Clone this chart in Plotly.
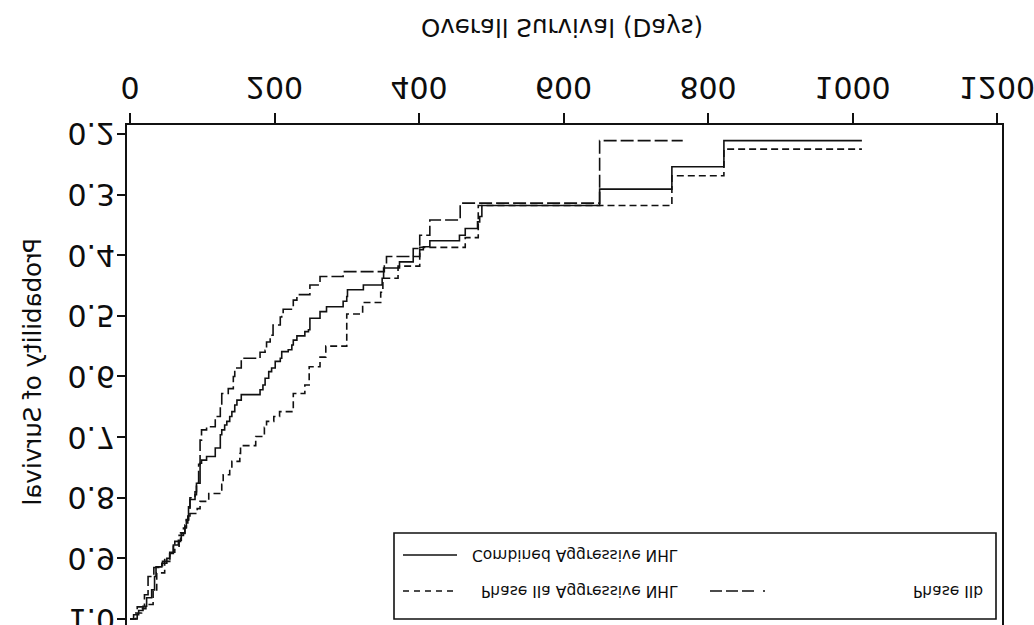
import plotly.graph_objects as go

# Kaplan-Meier step estimates: day of each event and survival after it
days_combined = [0, 5, 12, 18, 23, 30, 34, 36, 44, 51, 55, 60, 67, 71, 76, 78, 81, 83, 90, 92,
                 97, 99, 106, 118, 125, 127, 131, 134, 138, 141, 145, 148, 154, 180, 184, 187,
                 192, 196, 201, 208, 210, 219, 224, 226, 231, 242, 247, 249, 263, 272, 295, 300,
                 301, 323, 349, 351, 373, 392, 401, 406, 415, 456, 464, 481, 484, 487, 650, 750,
                 822, 1013]
surv_combined = [1.0, 0.993, 0.986, 0.979, 0.965, 0.952, 0.930, 0.914, 0.908, 0.900, 0.892,
                 0.878, 0.870, 0.859, 0.848, 0.837, 0.815, 0.803, 0.795, 0.776, 0.743, 0.738,
                 0.732, 0.718, 0.696, 0.688, 0.680, 0.674, 0.666, 0.658, 0.647, 0.639, 0.630,
                 0.622, 0.614, 0.603, 0.592, 0.586, 0.575, 0.570, 0.559, 0.556, 0.548, 0.540,
                 0.533, 0.526, 0.523, 0.504, 0.493, 0.485, 0.476, 0.468, 0.457, 0.449, 0.438,
                 0.421, 0.411, 0.402, 0.391, 0.386, 0.376, 0.367, 0.356, 0.345, 0.336, 0.318,
                 0.291, 0.254, 0.211, 0.211]

days_iia = [0, 8, 16, 22, 32, 37, 48, 55, 60, 68, 74, 78, 81, 93, 97, 109, 127, 129, 138, 141,
            152, 153, 174, 186, 189, 199, 207, 226, 242, 248, 263, 271, 300, 322, 347, 350, 371,
            401, 464, 482, 750, 822, 1013]
surv_iia = [1.0, 0.990, 0.983, 0.976, 0.954, 0.924, 0.902, 0.892, 0.880, 0.862, 0.850, 0.836,
            0.826, 0.818, 0.806, 0.793, 0.778, 0.762, 0.753, 0.740, 0.727, 0.714, 0.699, 0.684,
            0.674, 0.666, 0.658, 0.628, 0.614, 0.584, 0.568, 0.550, 0.497, 0.478, 0.461, 0.438,
            0.418, 0.387, 0.371, 0.318, 0.269, 0.225, 0.225]

days_iib = [0, 10, 20, 25, 33, 45, 55, 62, 70, 76, 80, 83, 90, 92, 95, 97, 99, 106, 118, 125,
            127, 136, 143, 145, 154, 180, 187, 189, 194, 198, 208, 210, 212, 226, 231, 249, 263,
            295, 352, 355, 392, 401, 415, 457, 650, 765]
surv_iib = [1.0, 0.980, 0.960, 0.930, 0.915, 0.905, 0.890, 0.872, 0.858, 0.845, 0.830, 0.800,
            0.790, 0.775, 0.745, 0.705, 0.688, 0.683, 0.666, 0.650, 0.628, 0.620, 0.600, 0.586,
            0.570, 0.560, 0.557, 0.543, 0.532, 0.515, 0.502, 0.497, 0.489, 0.474, 0.465, 0.449,
            0.435, 0.427, 0.416, 0.402, 0.389, 0.367, 0.342, 0.314, 0.211, 0.211]

x_ticks = [0, 200, 400, 600, 800, 1000, 1200]
y_ticks = [0.2, 0.3, 0.4, 0.5, 0.6, 0.7, 0.8, 0.9, 1.0]
y_tick_text = ["0.2", "0.3", "0.4", "0.5", "0.6", "0.7", "0.8", "0.9", "1.0"]

label_combined = "Combined Aggressive NHL"
label_iia = "Phase IIa Aggressive NHL"
label_iib = "Phase IIb"

INK = "#111111"
FONT = "DejaVu Sans"
DASH_SHORT = "7px,4px"
DASH_LONG = "13px,4px"
LW = 1.6

fig = go.Figure()
fig.add_trace(go.Scatter(x=days_combined, y=surv_combined, mode="lines",
                         line=dict(shape="hv", color=INK, width=LW)))
fig.add_trace(go.Scatter(x=days_iia, y=surv_iia, mode="lines",
                         line=dict(shape="hv", color=INK, width=LW, dash=DASH_SHORT)))
fig.add_trace(go.Scatter(x=days_iib, y=surv_iib, mode="lines",
                         line=dict(shape="hv", color=INK, width=LW, dash=DASH_LONG)))

W, H = 1034, 625
ML, MR, MT, MB = 127, 32, 0, 125
PW, PH = W - ML - MR, H - MT - MB


def px(x):
    return (x - ML) / PW


def py(y):
    return (PH - y) / PH


fig.update_layout(
    width=W, height=H,
    margin=dict(l=ML, r=MR, t=MT, b=MB, pad=0),
    plot_bgcolor="white", paper_bgcolor="white",
    showlegend=False,
    font=dict(family=FONT, color="#0d0d0d"),
)
fig.update_xaxes(
    range=[-4.15, 1206.9], tickvals=x_ticks, ticks="outside", ticklen=10, tickwidth=1.5,
    tickcolor=INK, showline=True, linewidth=1.6, linecolor=INK, mirror=False,
    showgrid=False, zeroline=False, tickfont=dict(size=30, family=FONT),
    ticklabeloverflow="allow", automargin=False,
)
fig.update_yaxes(
    range=[0.1852, 1.0099], tickvals=y_ticks, ticktext=y_tick_text, ticks="outside",
    ticklen=8, tickwidth=1.5, tickcolor=INK, showline=True, linewidth=1.6, linecolor=INK,
    mirror=True, showgrid=False, zeroline=False, tickfont=dict(size=30, family=FONT),
    ticklabeloverflow="allow", ticklabelstandoff=-4, automargin=False,
)

annotations = [
    dict(text="Overall Survival (Days)", x=px(561.5), y=py(597), xref="paper", yref="paper",
         xanchor="center", yanchor="middle", showarrow=False, font=dict(size=24.5)),
    dict(text="Probability of Survival", x=px(32), y=py(254), xref="paper", yref="paper",
         xanchor="center", yanchor="middle", textangle=-90, showarrow=False,
         font=dict(size=24.5)),
    dict(text=label_combined, x=px(680), y=py(70), xref="paper", yref="paper",
         xanchor="right", yanchor="middle", showarrow=False, font=dict(size=15.5)),
    dict(text=label_iia, x=px(680), y=py(34), xref="paper", yref="paper",
         xanchor="right", yanchor="middle", showarrow=False, font=dict(size=15.5)),
    dict(text=label_iib, x=px(985), y=py(34), xref="paper", yref="paper",
         xanchor="right", yanchor="middle", showarrow=False, font=dict(size=15.5)),
]

shapes = [
    # legend frame
    dict(type="rect", xref="paper", yref="paper", x0=px(394), x1=px(996), y0=py(6), y1=py(92),
         line=dict(color=INK, width=1.6), fillcolor="white", layer="above"),
    # legend key samples
    dict(type="line", xref="paper", yref="paper", x0=px(403), x1=px(457), y0=py(70), y1=py(70),
         line=dict(color=INK, width=LW), layer="above"),
    dict(type="line", xref="paper", yref="paper", x0=px(403), x1=px(458), y0=py(34), y1=py(34),
         line=dict(color=INK, width=LW, dash="6px,5px"), layer="above"),
    dict(type="line", xref="paper", yref="paper", x0=px(710), x1=px(765), y0=py(34), y1=py(34),
         line=dict(color=INK, width=LW, dash="12px,4px,12px,4px,12px,9px,2px,40px"),
         layer="above"),
]

fig.update_layout(annotations=annotations, shapes=shapes)

# Mirror the finished chart top-to-bottom and keep the page from scrolling
flip_js = (
    "document.documentElement.style.overflow='hidden';"
    "document.body.style.overflow='hidden';"
    "document.body.style.margin='0';"
    "var d=document.getElementById('{plot_id}');"
    "d.style.overflow='hidden';"
    "d.style.transform='scaleY(-1)';"
)

fig.write_html("out.html", config={"displayModeBar": False}, post_script=flip_js)
